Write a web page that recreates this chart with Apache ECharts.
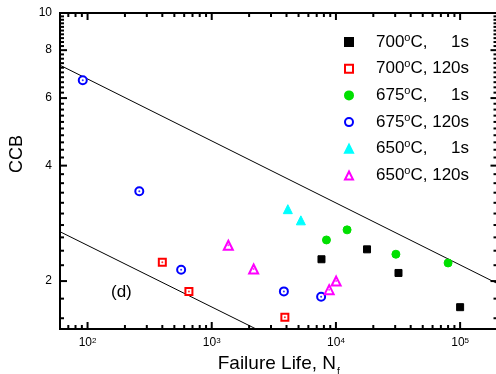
<!DOCTYPE html>
<html><head><meta charset="utf-8">
<script src="https://cdn.jsdelivr.net/npm/echarts@6/dist/echarts.min.js"></script>
<style>html,body{margin:0;padding:0;background:#fff}#c{width:496px;height:374px}</style>
</head><body><div id="c"></div>
<script>
// ---- data ----
const seriesNames = ['700°C,     1s', '700°C, 120s', '675°C,     1s', '675°C, 120s', '650°C,     1s', '650°C, 120s'];
const s700_1s   = [[7650, 2.28], [17800, 2.42], [31900, 2.10], [100000, 1.71]];
const s700_120s = [[400, 2.24], [655, 1.88], [3880, 1.61]];
const s675_1s   = [[8390, 2.56], [12300, 2.72], [30400, 2.35], [80000, 2.23]];
const s675_120s = [[91.5, 6.68], [261, 3.43], [567, 2.14], [3810, 1.88], [7600, 1.82]];
const s650_1s   = [[4100, 3.08], [5220, 2.88]];
const s650_120s = [[1360, 2.48], [2175, 2.15], [8820, 1.90], [10040, 2.00]];
const upperLine = [[60, 7.31], [200000, 1.97]];
const lowerLine = [[60, 2.69], [3000, 1.435]];
const xMajor = [100, 1000, 10000, 100000];
const xMinor = [70, 80, 90, 200, 300, 400, 500, 600, 700, 800, 900, 2000, 3000, 4000, 5000, 6000, 7000, 8000, 9000, 20000, 30000, 40000, 50000, 60000, 70000, 80000, 90000];
const yMajor = [2, 4, 6, 8, 10];
const yMinor = [1.6, 1.8, 2.2, 2.4, 2.6, 2.8, 3.0, 3.2, 3.4, 3.6, 3.8, 4.2, 4.4, 4.6, 4.8, 5.0, 5.2, 5.4, 5.6, 5.8, 6.2, 6.4, 6.6, 6.8, 7.0, 7.2, 7.4, 7.6, 7.8, 8.2, 8.4, 8.6, 8.8, 9.0, 9.2, 9.4, 9.6, 9.8];
const xRange = [60, 200000];
const yRange = [1.5, 10];

const FONT = 'Liberation Sans, Arial, sans-serif';
const chart = echarts.init(document.getElementById('c'), null, {renderer: 'canvas'});

// inward tick marks, drawn as thin rect symbols placed through the axes' scales
function ticks(values, side, len) {
  let data, size, offset;
  if (side === 'bottom') { data = values.map(v => [v, yRange[0]]); size = [2, len]; offset = [0, -len / 2]; }
  if (side === 'top')    { data = values.map(v => [v, yRange[1]]); size = [2, len]; offset = [0, len / 2]; }
  if (side === 'left')   { data = values.map(v => [xRange[0], v]); size = [len, 2]; offset = [len / 2, 0]; }
  if (side === 'right')  { data = values.map(v => [xRange[1], v]); size = [len, 2]; offset = [-len / 2, 0]; }
  return {type: 'scatter', data, symbol: 'rect', symbolSize: size, symbolOffset: offset,
    clip: false, z: 6, itemStyle: {color: '#000', opacity: 1}};
}

function sym(name, data, symbol, color, size) {
  return {name, type: 'scatter', data, symbol, symbolSize: size, z: 3,
    itemStyle: {color: color, borderColor: color, borderWidth: 1, opacity: 1}};
}
function dot(data, color) {
  return {type: 'scatter', data, symbol: 'circle', symbolSize: 2, z: 4,
    itemStyle: {color: color}};
}

chart.setOption({
  backgroundColor: '#fff',
  animation: false,
  grid: {left: 60, top: 13, width: 437.5, height: 316, outerBoundsMode: 'none', containLabel: false,
    show: true, borderColor: '#000', borderWidth: 2, backgroundColor: 'transparent'},
  xAxis: {
    type: 'log', logBase: 10, min: xRange[0], max: xRange[1],
    splitLine: {show: false}, axisLine: {show: false}, axisTick: {show: false},
    axisLabel: {customValues: xMajor, color: '#000', fontFamily: FONT, fontSize: 12, margin: 8,
      formatter: v => '10{sup|' + Math.round(Math.log10(v)) + '}',
      rich: {sup: {fontSize: 8, verticalAlign: 'top', lineHeight: 8, fontFamily: FONT, color: '#000'}}},
    name: 'Failure Life, N{sub|f}', nameLocation: 'middle', nameGap: 21,
    nameTextStyle: {fontFamily: FONT, fontSize: 19, color: '#000',
      rich: {sub: {fontSize: 10, verticalAlign: 'bottom', fontFamily: FONT, color: '#000', padding: [0, 0, -4, 1]}}}
  },
  yAxis: {
    type: 'log', logBase: 10, min: yRange[0], max: yRange[1],
    splitLine: {show: false}, axisLine: {show: false}, axisTick: {show: false},
    axisLabel: {customValues: yMajor, color: '#000', fontFamily: FONT, fontSize: 12, margin: 8,
      formatter: v => String(Math.round(v))},
    name: 'CCB', nameLocation: 'middle', nameGap: 34,
    nameTextStyle: {fontFamily: FONT, fontSize: 18, color: '#000', padding: [0, 0, 0, 34]}
  },
  legend: {
    orient: 'vertical', left: 339, top: 27, itemWidth: 8, itemHeight: 8, itemGap: 6.7,
    data: seriesNames, selectedMode: false,
    formatter: n => n.replace('°', '{sup|o}'),
    textStyle: {fontFamily: FONT, fontSize: 17, color: '#000', lineHeight: 20, padding: [0, 0, 0, 18],
      rich: {sup: {fontSize: 11, verticalAlign: 'top', lineHeight: 11, fontFamily: FONT, color: '#000'}}}
  },
  graphic: [
    {type: 'text', left: 111, top: 284, style: {text: '(d)', font: '17px ' + FONT, fill: '#000'}}
  ],
  series: [
    {type: 'line', data: upperLine, symbol: 'none', lineStyle: {color: '#000', width: 1}, z: 2, clip: true},
    {type: 'line', data: lowerLine, symbol: 'none', lineStyle: {color: '#000', width: 1}, z: 2, clip: true},
    sym(seriesNames[0], s700_1s, 'rect', '#000000', 7),
    sym(seriesNames[1], s700_120s, 'emptyRect', '#ff0000', 7),
    sym(seriesNames[2], s675_1s, 'circle', '#00e000', 8),
    sym(seriesNames[3], s675_120s, 'emptyCircle', '#0000ff', 8),
    sym(seriesNames[4], s650_1s, 'triangle', '#00ffff', 9),
    sym(seriesNames[5], s650_120s, 'emptyTriangle', '#ff00ff', 9),
    dot(s700_120s, '#ff0000'),
    dot(s675_120s, '#0000ff'),
    dot(s650_120s, '#ff00ff'),
    ticks(xMajor, 'bottom', 7), ticks(xMinor, 'bottom', 4),
    ticks(xMajor, 'top', 7), ticks(xMinor, 'top', 4),
    ticks(yMajor, 'left', 7), ticks(yMinor, 'left', 4),
    ticks(yMajor, 'right', 7), ticks(yMinor, 'right', 4)
  ]
});
</script></body></html>
